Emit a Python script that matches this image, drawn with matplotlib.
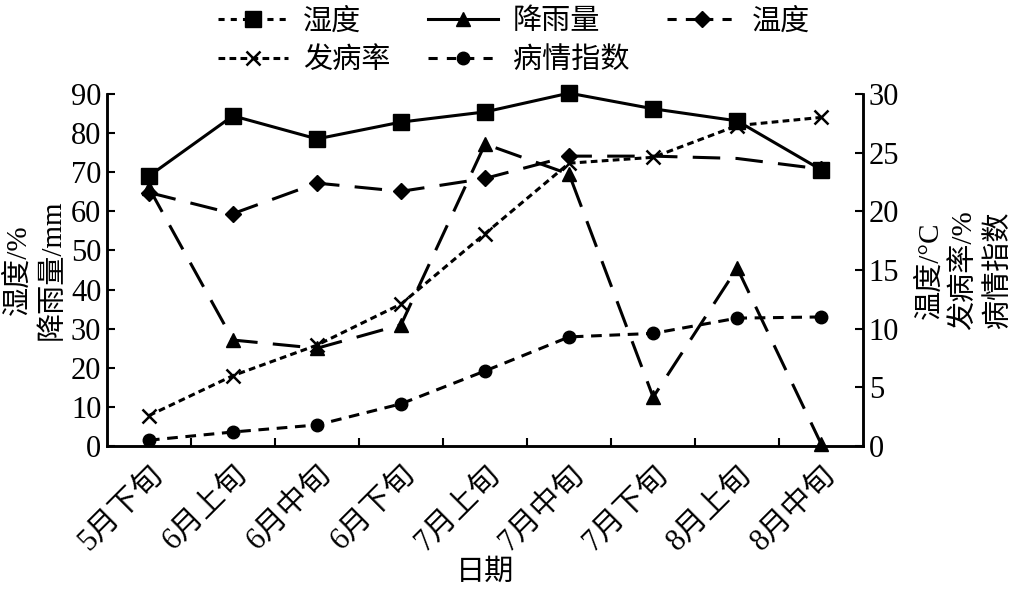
import matplotlib
matplotlib.use("Agg")
import matplotlib.pyplot as plt
from matplotlib.lines import Line2D
import numpy as np

plt.rcParams['font.family'] = ['Liberation Serif', 'Noto Sans CJK SC']
plt.rcParams['axes.unicode_minus'] = False

dates = ["5月下旬", "6月上旬", "6月中旬", "6月下旬", "7月上旬",
         "7月中旬", "7月下旬", "8月上旬", "8月中旬"]
humidity = [69, 84.4, 78.5, 82.8, 85.4, 90.2, 86.2, 83.1, 70.6]
rainfall = [66, 27.1, 25, 31, 77.2, 69.5, 12.5, 45.5, 0.5]
temperature = [21.6, 19.8, 22.4, 21.7, 22.8, 24.7, 24.7, 24.5, 23.6]
incidence = [2.6, 6.0, 8.6, 12.1, 18.1, 24.1, 24.6, 27.3, 28.0]
disease_index = [0.5, 1.2, 1.8, 3.6, 6.4, 9.3, 9.6, 10.9, 11.0]

x = np.arange(len(dates))
lw = 2.2

fig = plt.figure(figsize=(10.18, 6.02), dpi=100)
ax = fig.add_axes([0.105, 0.259, 0.743, 0.585])
ax2 = ax.twinx()

ax.plot(x, humidity, "k-", marker="s", ms=11, lw=lw, clip_on=False,
        zorder=5)
ax.plot(x, rainfall, color="k", ls=(0, (9, 5)), marker="^", ms=10, lw=lw,
        clip_on=False)
ax2.plot(x, temperature, color="k", ls=(0, (9, 5)), marker="D", ms=8, lw=lw,
         markevery=[0, 1, 2, 3, 4, 5, 8])
ax2.plot(x, incidence, color="k", ls=(0, (2.2, 1.4)), marker="x", ms=10,
         mew=1.8, lw=lw)
ax2.plot(x, disease_index, color="k", ls=(0, (3.5, 2.5)), marker="o", ms=9,
         lw=lw)

ax.set_xlim(-0.5, len(dates) - 0.5)
ax.set_ylim(0, 90)
ax2.set_ylim(0, 30)
ax.set_yticks(np.arange(0, 91, 10))
ax2.set_yticks(np.arange(0, 31, 5))

ax.set_xticks(x)
ax.set_xticklabels(dates, rotation=45, ha="right", rotation_mode="anchor")
ax.set_xticks(x[:-1] + 0.5, minor=True)
ax.tick_params(axis="x", which="major", length=0, labelsize=22, pad=10)
ax.tick_params(axis="x", which="minor", direction="in", length=6, width=1.5)
ax.tick_params(axis="y", direction="in", length=6, width=1.5, labelsize=22,
               pad=4)
ax2.tick_params(axis="y", direction="in", length=6, width=1.5, labelsize=22,
                pad=4)

for a in (ax, ax2):
    a.spines["top"].set_visible(False)
    for s in ("left", "right", "bottom"):
        a.spines[s].set_linewidth(1.8)

ax.set_xlabel("日期", fontsize=21, labelpad=2)
ax.set_ylabel("湿度/%\n降雨量/mm", fontsize=21, linespacing=1.35,
              labelpad=4)
ax2.set_ylabel("温度/°C\n发病率/%\n病情指数", fontsize=21,
               linespacing=1.35, labelpad=12)

handles = [
    Line2D([], [], color="k", ls=(0, (2, 2)), marker="s", ms=11, lw=lw),
    Line2D([], [], color="k", ls=(0, (2.2, 1.4)), marker="x", ms=10,
           mew=1.8, lw=lw),
    Line2D([], [], color="k", ls="-", marker="^", ms=10, lw=lw),
    Line2D([], [], color="k", ls=(0, (3, 3)), marker="o", ms=9, lw=lw),
    Line2D([], [], color="k", ls=(0, (3, 3)), marker="D", ms=8, lw=lw),
]
labels = ["湿度", "发病率", "降雨量", "病情指数", "温度"]
fig.legend(handles, labels, loc="upper center", bbox_to_anchor=(0.505, 1.03),
           ncol=3, frameon=False, fontsize=21, handlelength=2.4,
           handletextpad=0.5, columnspacing=1.3, labelspacing=0.4)

fig.savefig("out.png", dpi=100)
